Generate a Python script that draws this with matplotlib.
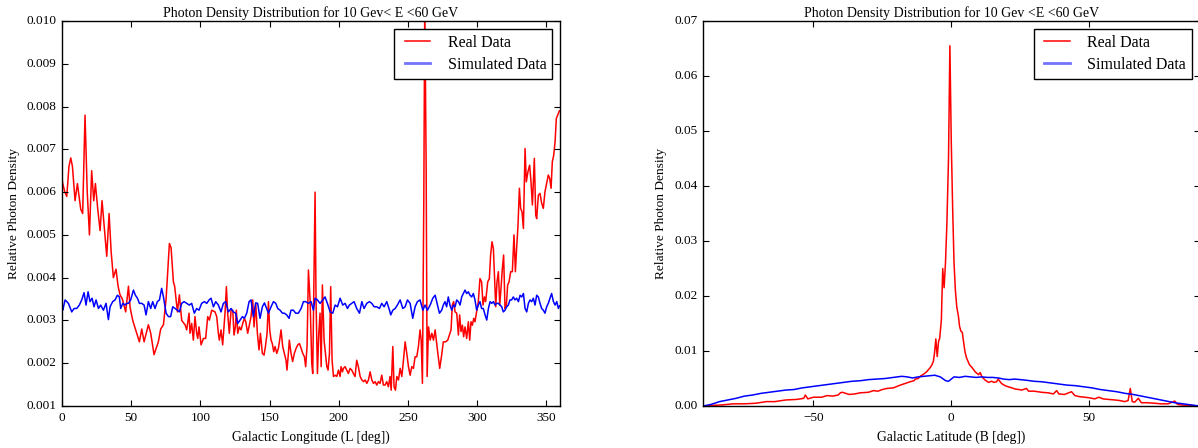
import numpy as np
import matplotlib
matplotlib.use('Agg')
import matplotlib.pyplot as plt

# --- longitude profile (left panel) ---
lon_real = [0.0, 0.5, 2.0, 3.4, 5.0, 6.3, 7.5, 9.4, 11.1, 12.3, 13.5, 14.9, 16.6, 18.2, 19.8,
            21.4, 22.9, 24.1, 25.8, 27.5, 28.9, 30.5, 32.3, 34.0, 35.5, 37.1, 39.0, 40.5, 41.9,
            43.6, 46.0, 48.0, 49.2, 51.1, 54.0, 55.9, 57.6, 59.3, 62.4, 64.1, 66.5, 69.6, 71.3,
            73.3, 75.2, 77.6, 78.8, 80.5, 81.4, 83.4, 84.8, 86.5, 88.9, 90.1, 91.8, 92.5, 93.7,
            94.9, 96.1, 97.3, 98.1, 99.0, 100.5, 102.2, 103.8, 105.3, 106.5, 108.2, 110.6, 111.8,
            113.0, 113.7, 114.9, 116.1, 117.8, 118.8, 119.7, 120.9, 122.2, 123.4, 124.3, 125.3,
            126.0, 127.0, 128.2, 129.4, 130.6, 131.8, 132.8, 134.2, 135.4, 136.6, 137.8, 138.8,
            140.0, 141.2, 142.4, 143.4, 144.8, 146.0, 147.0, 148.2, 149.2, 150.1, 151.1, 152.0,
            153.0, 154.0, 155.2, 156.4, 157.3, 158.3, 159.5, 160.7, 161.9, 162.6, 163.6, 164.3,
            165.5, 166.7, 167.9, 169.2, 170.4, 171.6, 172.8, 174.0, 175.2, 176.1, 177.1, 178.1,
            179.3, 180.5, 181.2, 181.9, 182.9, 183.6, 184.6, 185.6, 186.5, 187.3, 188.2, 189.4,
            190.4, 191.4, 192.3, 193.3, 194.2, 195.2, 196.2, 197.4, 198.6, 199.8, 201.0, 201.7,
            202.7, 203.4, 204.6, 205.8, 207.0, 208.2, 209.4, 210.6, 211.8, 213.0, 214.2, 215.5,
            216.7, 217.9, 219.1, 220.3, 221.5, 222.7, 223.9, 225.1, 226.3, 227.5, 228.7, 229.9,
            231.1, 232.3, 233.5, 234.7, 235.9, 237.1, 237.9, 239.1, 240.0, 241.0, 242.0, 243.2,
            244.4, 245.6, 246.8, 248.0, 249.2, 250.4, 251.6, 252.8, 254.0, 255.2, 256.4, 257.6,
            258.8, 259.6, 260.5, 261.5, 262.2, 263.2, 263.9, 264.9, 266.1, 267.3, 268.5, 269.7,
            271.5, 273.0, 274.4, 275.6, 277.3, 278.8, 280.0, 281.2, 282.1, 283.1, 284.1, 285.3,
            286.5, 287.4, 288.4, 289.4, 290.3, 291.3, 292.5, 293.7, 294.7, 295.6, 296.6, 297.6,
            298.5, 299.7, 300.9, 302.1, 303.3, 304.3, 305.3, 306.2, 307.7, 308.9, 309.8, 310.8,
            311.8, 312.5, 313.5, 314.4, 315.4, 316.4, 317.3, 318.3, 319.2, 320.2, 321.2, 322.1,
            323.1, 324.3, 325.5, 326.7, 327.7, 328.6, 329.6, 330.6, 331.5, 332.5, 333.5, 334.7,
            335.6, 336.8, 338.0, 339.0, 340.0, 341.4, 342.4, 343.1, 344.3, 345.5, 346.7, 347.9,
            349.1, 350.3, 351.5, 352.5, 353.5, 354.4, 355.4, 356.4, 357.3, 358.3, 359.5]
dens_real = [0.0063, 0.0062, 0.0060, 0.0059, 0.0066, 0.0068, 0.0066, 0.0058, 0.0062, 0.0059,
             0.0056, 0.0055, 0.0078, 0.0060, 0.0050, 0.0065, 0.0058, 0.0062, 0.0056, 0.0051,
             0.0058, 0.0052, 0.0045, 0.0055, 0.0046, 0.0040, 0.0042, 0.0038, 0.0036, 0.0035,
             0.0032, 0.0038, 0.0033, 0.0030, 0.0027, 0.0025, 0.0028, 0.0025, 0.0029, 0.0027,
             0.0022, 0.0025, 0.0028, 0.0029, 0.0035, 0.0048, 0.0047, 0.0039, 0.0038, 0.0032,
             0.0036, 0.0030, 0.0029, 0.00278, 0.00317, 0.0027, 0.00293,
             0.00254, 0.00309, 0.0027, 0.00258, 0.00285, 0.00243, 0.00258, 0.00258, 0.00309,
             0.00301, 0.00324, 0.0032, 0.00309, 0.0027, 0.00254, 0.00278, 0.00243, 0.00317,
             0.00379, 0.00317, 0.0027, 0.00324, 0.00324, 0.00266, 0.00285, 0.00324, 0.0027,
             0.00285, 0.00278, 0.00293, 0.00305, 0.00297, 0.0027, 0.00289, 0.00309, 0.00348,
             0.00285, 0.0034, 0.0027, 0.00231, 0.0027, 0.00223, 0.00219, 0.00239, 0.0027,
             0.00344, 0.00278, 0.00254, 0.00246, 0.00227, 0.00239, 0.00223, 0.00235, 0.00254,
             0.00278, 0.00239, 0.00223, 0.00207, 0.00184, 0.00223, 0.00254, 0.00223, 0.00204,
             0.00223, 0.00235, 0.00243, 0.00246, 0.00235, 0.00223, 0.00215, 0.00192, 0.00239,
             0.00418, 0.00348, 0.00200, 0.00176, 0.00348, 0.0060, 0.00348, 0.00176, 0.0027,
             0.00317, 0.00192, 0.00383, 0.00254, 0.00223, 0.00192, 0.00184, 0.00223, 0.00379,
             0.00207, 0.00169, 0.00172, 0.00169, 0.00184, 0.00169, 0.00192, 0.0018, 0.00188,
             0.00192, 0.00184, 0.00176, 0.00188, 0.00184, 0.00176, 0.00169, 0.00207, 0.00192,
             0.00169, 0.00161, 0.00157, 0.00161, 0.00153, 0.00161, 0.0018, 0.00161, 0.00153,
             0.00157, 0.00149, 0.00157, 0.00153, 0.00172, 0.00149, 0.00149, 0.00157, 0.00145,
             0.00169, 0.00137, 0.00239, 0.00145, 0.00137, 0.00169, 0.00161, 0.00188, 0.00169,
             0.00207, 0.0025, 0.00223, 0.00192, 0.00172, 0.00192, 0.00188, 0.00215, 0.00215,
             0.00239, 0.00278, 0.00254, 0.00153, 0.00581, 0.0105, 0.00659, 0.00169, 0.00285,
             0.00254, 0.0027, 0.00254, 0.00278, 0.00227, 0.00188, 0.00219, 0.0025, 0.0025,
             0.00254, 0.00266, 0.00278, 0.00336, 0.00344, 0.0032, 0.00317, 0.00266, 0.00313,
             0.00274, 0.00289, 0.00262, 0.00285, 0.00258, 0.00297, 0.00254, 0.00297, 0.00289,
             0.00305, 0.00297, 0.0032, 0.00344, 0.00398, 0.0039, 0.00336, 0.00355, 0.00344,
             0.0039, 0.00398, 0.00453, 0.00484, 0.00468, 0.00414, 0.00332, 0.0039, 0.00414,
             0.00336, 0.00375, 0.00422, 0.00453, 0.00328, 0.00336, 0.00383, 0.0039, 0.00414,
             0.00414, 0.0050, 0.00414, 0.00468, 0.00523, 0.00609, 0.00562, 0.00554, 0.00515,
             0.00702, 0.00624, 0.00648, 0.00663, 0.00624, 0.0057, 0.00679, 0.00546, 0.00538,
             0.00593, 0.00597, 0.00574, 0.00562, 0.00601, 0.0062, 0.0064, 0.00632, 0.00609,
             0.00671, 0.00686, 0.00718, 0.00772, 0.0078, 0.0079]

lon_sim = [0.0, 0.5, 2.2, 4.6, 7.0, 8.7, 10.6, 12.5, 14.2, 15.9, 17.3, 18.8, 20.2, 21.7, 23.1,
           24.6, 26.3, 27.9, 29.9, 31.8, 33.5, 34.7, 36.6, 38.3, 40.0, 41.4, 42.4, 43.9, 45.5,
           46.7, 48.0, 49.6, 51.6, 53.0, 54.5, 55.9, 57.6, 59.3, 60.7, 62.4, 64.1, 65.5, 67.2,
           68.9, 70.4, 72.0, 73.3, 75.2, 76.9, 78.5, 80.0, 81.7, 83.4, 84.8, 86.5, 88.2, 90.1,
           92.0, 93.7, 95.6, 97.3, 99.0, 100.9, 102.9, 104.6, 106.3, 107.7, 109.4, 111.1, 113.0,
           114.9, 116.6, 118.3, 120.2, 122.2, 123.8, 125.5, 127.0, 128.7, 130.4, 131.8, 133.5,
           135.2, 136.6, 138.3, 140.0, 141.4, 143.1, 144.8, 146.3, 147.9, 149.2, 151.1, 152.8,
           154.5, 155.9, 157.6, 159.3, 160.7, 162.4, 164.1, 165.5, 167.2, 168.9, 170.8, 172.8,
           174.5, 176.1, 178.1, 180.0, 181.7, 182.9, 184.6, 186.5, 188.5, 190.1, 191.8, 193.8,
           195.7, 197.4, 199.1, 201.0, 202.9, 204.6, 206.3, 207.7, 209.4, 211.1, 213.0, 215.0,
           216.7, 218.3, 220.3, 222.2, 223.9, 225.6, 227.5, 229.4, 231.1, 232.8, 234.7, 236.7,
           237.6, 239.1, 240.8, 242.4, 244.4, 246.3, 248.0, 249.7, 251.6, 253.5, 255.2, 256.9,
           258.8, 260.8, 262.4, 264.1, 266.1, 268.0, 269.7, 271.4, 272.8, 274.4, 275.6, 276.8,
           278.0, 279.2, 280.4, 281.7, 282.9, 284.1, 285.3, 286.5, 287.7, 288.9, 290.1, 291.3,
           292.5, 293.7, 294.9, 296.1, 297.3, 298.5, 299.7, 300.9, 302.1, 303.3, 304.5, 305.8,
           307.0, 308.2, 309.4, 310.6, 311.8, 313.0, 314.2, 315.4, 316.6, 317.8, 319.0, 320.2,
           321.4, 322.6, 323.8, 325.0, 326.2, 327.4, 328.6, 329.9, 331.1, 332.3, 333.5, 334.7,
           335.9, 337.1, 338.3, 339.5, 340.7, 341.9, 343.1, 344.3, 345.5, 346.7, 347.9, 349.1,
           350.3, 351.5, 352.7, 353.9, 355.2, 356.4, 357.6, 358.8, 359.6]
dens_sim = [0.0033, 0.00324, 0.00348, 0.0034, 0.0032, 0.00328, 0.00328, 0.00336, 0.00348,
            0.00365, 0.00336, 0.00367, 0.00344, 0.00352, 0.00332, 0.00348, 0.00328, 0.00336,
            0.00324, 0.0034, 0.00302, 0.00332, 0.00344, 0.00348, 0.00359, 0.00355, 0.00328,
            0.0034, 0.00336, 0.0034, 0.0034, 0.00348, 0.00371, 0.00359, 0.00352, 0.0034,
            0.0034, 0.00336, 0.00313, 0.00344, 0.00328, 0.00344, 0.00328, 0.00344, 0.00348,
            0.00375, 0.00355, 0.00317, 0.00309, 0.00309, 0.00332, 0.00328, 0.00324, 0.0032,
            0.0034, 0.00344, 0.0034, 0.00336, 0.0034, 0.00317, 0.00328, 0.00324, 0.0034,
            0.00344, 0.0034, 0.00348, 0.00352, 0.00332, 0.00344, 0.00336, 0.0032, 0.0034,
            0.00344, 0.0032, 0.00328, 0.0032, 0.00317, 0.00293, 0.00301, 0.00309, 0.00305,
            0.00317, 0.00344, 0.00348, 0.00309, 0.00341, 0.0034, 0.00305, 0.00332, 0.00341,
            0.00328, 0.00317, 0.00332, 0.00344, 0.0034, 0.00328, 0.00324, 0.00317, 0.00317,
            0.00313, 0.00305, 0.00324, 0.00324, 0.00317, 0.00317, 0.00328, 0.00344, 0.00344,
            0.0034, 0.00344, 0.00324, 0.00352, 0.00348, 0.0034, 0.00348, 0.00355, 0.0034,
            0.0032, 0.00317, 0.00336, 0.00332, 0.00352, 0.00336, 0.0034, 0.00328, 0.00336,
            0.0034, 0.00344, 0.00328, 0.00317, 0.00344, 0.00328, 0.0034, 0.00344, 0.0034,
            0.00332, 0.00332, 0.00328, 0.0034, 0.00332, 0.00344, 0.00324, 0.00313, 0.00324,
            0.00328, 0.00336, 0.00348, 0.00328, 0.00332, 0.00348, 0.0034, 0.00305, 0.00332,
            0.00344, 0.00348, 0.00324, 0.00336, 0.00324, 0.00336, 0.00352, 0.00359, 0.00336,
            0.00317, 0.00324, 0.00336, 0.00344, 0.00332, 0.00355, 0.00336, 0.00324, 0.00336,
            0.00332, 0.00348, 0.00344, 0.00336, 0.00355, 0.00363, 0.00371, 0.00363, 0.00367,
            0.00359, 0.00355, 0.00363, 0.00348, 0.00324, 0.00336, 0.00344, 0.00328, 0.00328,
            0.00313, 0.00301, 0.00328, 0.00344, 0.0034, 0.00344, 0.00336, 0.0034, 0.0034,
            0.00336, 0.00332, 0.0032, 0.00324, 0.00332, 0.00336, 0.00348, 0.00348, 0.00355,
            0.00348, 0.00352, 0.00344, 0.00359, 0.00355, 0.00363, 0.00328, 0.0032, 0.0034,
            0.00348, 0.00344, 0.00352, 0.00336, 0.00359, 0.00355, 0.0034, 0.00328, 0.00324,
            0.00317, 0.00332, 0.0034, 0.00352, 0.00363, 0.00344, 0.00336, 0.00344, 0.00328,
            0.00334]

# --- latitude profile (right panel) ---
lat_real = [-90, -87, -83, -79, -75, -71, -67, -64, -60, -56, -53.5, -52.9, -52, -50, -47,
            -45, -43, -41, -40.2, -39.5, -37, -35, -33, -30, -28.2, -26.6, -25, -23.3, -21,
            -20, -18.5, -16.7, -15, -13.5, -13, -12, -11, -10, -9, -8.3, -7.6, -7.0, -6.5,
            -6.1, -5.6, -5.1, -4.6, -4.2, -3.6, -3.1, -2.6, -2.1, -1.6, -1.0, -0.5, 0.0, 0.5,
            1.0, 1.5, 2.0, 2.6, 3.0, 3.5, 4.0, 4.5, 5.0, 5.5, 6.0, 6.6, 7.5, 8.7, 9.9, 10.5,
            11.1, 12.3, 13.5, 14.6, 15.5, 16.4, 17.0, 18.2, 19.5, 20.6, 22, 23.1, 24.5, 25.5,
            27.3, 28, 30, 32.7, 35.1, 37, 38.2, 39, 41, 43.6, 44.8, 46.5, 48.4, 50, 52, 53.5,
            55, 57, 59.3, 61, 62.9, 64.1, 64.9, 65.6, 66.5, 67.8, 68.9, 71, 73.8, 76, 78.6,
            81, 82, 83.4, 86, 90]
lat_real_dens = [0.0, 0.0001, 0.0002, 0.0004, 0.0004, 0.0005, 0.0008, 0.0008, 0.0011, 0.0012,
                 0.0014, 0.0020, 0.0013, 0.0016, 0.0016, 0.0019, 0.0018, 0.0020, 0.0024, 0.0025,
                 0.0021, 0.0022, 0.0024, 0.0025, 0.0028, 0.0027, 0.0030, 0.0032, 0.0033, 0.0035,
                 0.0038, 0.0041, 0.0044, 0.0046, 0.0049, 0.0050, 0.0055, 0.0058, 0.0062, 0.0066,
                 0.0070, 0.0075, 0.0081, 0.0095, 0.0122, 0.0090, 0.0118, 0.0123, 0.0156, 0.0250,
                 0.0215, 0.0260, 0.0330, 0.0450, 0.0655, 0.0480, 0.0360, 0.0260, 0.0210, 0.0180,
                 0.0163, 0.0145, 0.0136, 0.0134, 0.0115, 0.0098, 0.0088, 0.0082, 0.0075, 0.0070,
                 0.0062, 0.0057, 0.0061, 0.0053, 0.0047, 0.0043, 0.0045, 0.0043, 0.0044, 0.0049,
                 0.0041, 0.0037, 0.0035, 0.0033, 0.0031, 0.0030, 0.0029, 0.0032, 0.0027, 0.0027,
                 0.0025, 0.0024, 0.0022, 0.0028, 0.0022, 0.0021, 0.0026, 0.0019, 0.0017, 0.0016,
                 0.0015, 0.0013, 0.0016, 0.0013, 0.0012, 0.0011, 0.0010, 0.0008, 0.0010, 0.0032,
                 0.0008, 0.0007, 0.0014, 0.0006, 0.0006, 0.0005, 0.0004, 0.0004, 0.0009, 0.0003,
                 0.0002, 0.0001, 0.0]

lat_sim = [-90, -87, -84, -81, -78, -75, -72, -69, -66, -63, -60, -57, -54, -51, -48, -45, -42,
           -39, -36, -33, -30, -27, -24, -21, -18, -16, -14, -12, -10, -8, -6, -4, -2, -1, 0, 1,
           3, 5, 7, 9, 11, 13, 15, 17, 19, 21, 23, 25, 27, 30, 33, 36, 39, 42, 45, 48, 51, 54,
           57, 60, 63, 66, 69, 72, 75, 78, 81, 84, 87, 90]
lat_sim_dens = [0.0, 0.0003, 0.0008, 0.0011, 0.0014, 0.0018, 0.0020, 0.0023, 0.0025, 0.0027,
                0.0029, 0.0030, 0.0033, 0.0035, 0.0037, 0.0039, 0.0041, 0.0043, 0.0045, 0.0046,
                0.0048, 0.0049, 0.0050, 0.0052, 0.0054, 0.0053, 0.0051, 0.0053, 0.0054, 0.0055,
                0.0056, 0.0053, 0.0046, 0.0045, 0.0049, 0.0053, 0.0052, 0.0054, 0.0053, 0.0052,
                0.0053, 0.0052, 0.0052, 0.0051, 0.0049, 0.0048, 0.0049, 0.0048, 0.0047, 0.0045,
                0.0044, 0.0042, 0.0040, 0.0038, 0.0037, 0.0035, 0.0033, 0.0030, 0.0028, 0.0026,
                0.0023, 0.0021, 0.0018, 0.0015, 0.0012, 0.0009, 0.0006, 0.0004, 0.0002, 0.0]

plt.style.use('classic')
plt.rcParams['font.family'] = ['Liberation Serif', 'DejaVu Serif']
plt.rcParams['font.size'] = 10

fig = plt.figure(figsize=(11.98, 4.48), dpi=100)
fig.patch.set_facecolor('white')
ax1 = fig.add_axes([0.0518, 0.0937, 0.4157, 0.8594])
ax2 = fig.add_axes([0.5868, 0.0937, 0.4145, 0.8594])

def style_legend(ax):
    leg = ax.legend(loc='upper right', fontsize=11.5, borderpad=0.35, handlelength=2.2,
                    labelspacing=0.4)
    leg.get_frame().set_linewidth(1.0)
    lines = leg.get_lines()
    lines[1].set_linewidth(2.0)
    lines[1].set_alpha(0.55)
    return leg

ax1.plot(lon_real, dens_real, 'r-', lw=1.1, label='Real Data')
ax1.plot(lon_sim, dens_sim, 'b-', lw=1.1, label='Simulated Data')
ax1.set_xlim(0, 360)
ax1.set_ylim(0.001, 0.010)
ax1.set_xticks(np.arange(0, 361, 50))
ax1.set_yticks(np.arange(0.001, 0.0101, 0.001))
ax1.set_title('Photon Density Distribution for 10 Gev< E <60 GeV', fontsize=10, pad=3)
ax1.set_xlabel('Galactic Longitude (L [deg])', fontsize=9.8)
ax1.set_ylabel('Relative Photon Density', fontsize=9.6)
style_legend(ax1)

ax2.plot(lat_real, lat_real_dens, 'r-', lw=1.1, label='Real Data')
ax2.plot(lat_sim, lat_sim_dens, 'b-', lw=1.1, label='Simulated Data')
ax2.set_xlim(-90, 90)
ax2.set_ylim(0.0, 0.07)
ax2.set_xticks([-50, 0, 50])
ax2.set_yticks(np.arange(0.0, 0.071, 0.01))
ax2.set_title('Photon Density Distribution for 10 Gev <E <60 GeV', fontsize=10, pad=3)
ax2.set_xlabel('Galactic Latitude (B [deg])', fontsize=9.8)
ax2.set_ylabel('Relative Photon Density', fontsize=9.6)
style_legend(ax2)

for ax in (ax1, ax2):
    ax.tick_params(labelsize=9.5, length=4, width=0.8)
    for s in ax.spines.values():
        s.set_linewidth(1.0)

fig.savefig('out.png', dpi=100, facecolor='white')
